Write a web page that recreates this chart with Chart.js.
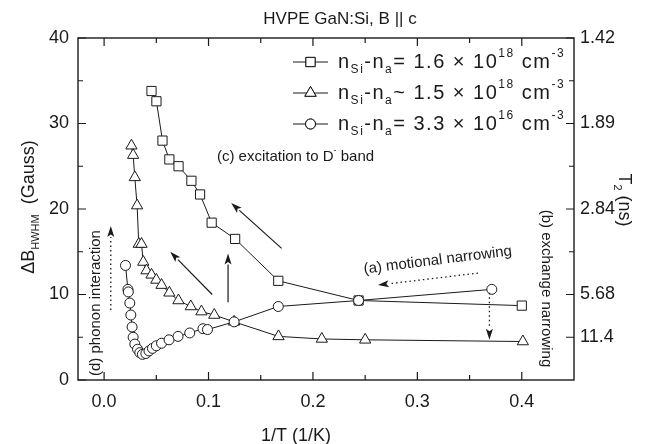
<!DOCTYPE html>
<html>
<head>
<meta charset="utf-8">
<script src="https://cdn.jsdelivr.net/npm/chart.js@4.4.1/dist/chart.umd.min.js"></script>
<style>
  body { margin: 0; background: #fff; }
  canvas { display: block; }
</style>
</head>
<body>
<canvas id="hvpeChart" width="646" height="444"></canvas>
<script>
// --- data (x = 1/T in 1/K, y = dB_HWHM in Gauss) ---
const squareX = [0.0454, 0.0501, 0.0559, 0.0625, 0.0713, 0.0836, 0.0919, 0.1030, 0.1255, 0.1668, 0.2437, 0.4000];
const squareY = [33.8, 32.6, 28.0, 25.8, 25.0, 23.3, 21.7, 18.4, 16.5, 11.6, 9.3, 8.7];

const triangleX = [0.0262, 0.0278, 0.0294, 0.0316, 0.0332, 0.0358, 0.0375, 0.0406, 0.0454, 0.0500, 0.0550, 0.0625, 0.0712, 0.0830, 0.0932, 0.1055, 0.1245, 0.1670, 0.2085, 0.2500, 0.4010];
const triangleY = [27.4, 26.3, 23.7, 20.4, 15.9, 15.9, 13.8, 12.8, 12.3, 11.7, 11.1, 10.2, 9.3, 8.6, 8.0, 7.6, 6.8, 5.1, 4.8, 4.7, 4.5];

const circleX = [0.0205, 0.0228, 0.0232, 0.0246, 0.0256, 0.0268, 0.0278, 0.0294, 0.0320, 0.0342, 0.0367, 0.0400, 0.0430, 0.0463, 0.0500, 0.0550, 0.0622, 0.0708, 0.0820, 0.0947, 0.0990, 0.1245, 0.1668, 0.2437, 0.3713];
const circleY = [13.4, 10.6, 10.3, 9.0, 7.6, 6.2, 5.0, 4.2, 3.6, 3.2, 3.0, 3.1, 3.4, 3.7, 4.0, 4.3, 4.7, 5.1, 5.5, 6.0, 5.9, 6.8, 8.6, 9.3, 10.6];

// tick values / labels
const xTicks = [0.0, 0.1, 0.2, 0.3, 0.4];
const xMinorTicks = [0.05, 0.15, 0.25, 0.35];
const yTicks = [0, 10, 20, 30, 40];
const yMinorTicks = [5, 15, 25, 35];
const t2TickGauss = [5, 10, 20, 30, 40];
const t2TickLabels = ['11.4', '5.68', '2.84', '1.89', '1.42'];
const t2MinorGauss = [15, 25, 35];

const INK = '#1a1a1a';
const FONT = "'Liberation Sans', Arial, sans-serif";

function pts(xs, ys) {
    return xs.map((x, i) => ({ x: x, y: ys[i] }));
}

// draw text with sub/superscript parts: [text, 0|-1|1]  (-1 sub, 1 sup)
function richWidth(ctx, parts, size, ratio) {
    let w = 0;
    parts.forEach(p => {
        ctx.font = (p[1] ? Math.round(size * (ratio || 0.62)) : size) + 'px ' + FONT;
        w += ctx.measureText(p[0]).width;
    });
    return w;
}
function drawRich(ctx, x, y, parts, size, ratio) {
    let cx = x;
    ctx.textBaseline = 'middle';
    ctx.textAlign = 'left';
    parts.forEach(p => {
        const s = p[1] ? Math.round(size * (ratio || 0.62)) : size;
        ctx.font = s + 'px ' + FONT;
        let dy = 0;
        if (p[1] === -1) dy = size * 0.38;
        if (p[1] === 1) dy = -size * 0.4;
        ctx.fillText(p[0], cx, y + dy);
        cx += ctx.measureText(p[0]).width;
    });
}

function arrow(ctx, x1, y1, x2, y2, dotted) {
    const ang = Math.atan2(y2 - y1, x2 - x1);
    const hl = 11, hw = 3.5;
    const bx = x2 - Math.cos(ang) * hl, by = y2 - Math.sin(ang) * hl;
    ctx.save();
    ctx.strokeStyle = INK;
    ctx.fillStyle = INK;
    ctx.lineWidth = dotted ? 1.3 : 1.2;
    ctx.setLineDash(dotted ? [1.5, 3] : []);
    ctx.beginPath();
    ctx.moveTo(x1, y1);
    ctx.lineTo(bx, by);
    ctx.stroke();
    ctx.setLineDash([]);
    ctx.beginPath();
    ctx.moveTo(x2, y2);
    ctx.lineTo(bx - Math.sin(ang) * hw, by + Math.cos(ang) * hw);
    ctx.lineTo(bx + Math.cos(ang) * 2.5, by + Math.sin(ang) * 2.5);
    ctx.lineTo(bx + Math.sin(ang) * hw, by - Math.cos(ang) * hw);
    ctx.closePath();
    ctx.fill();
    ctx.restore();
}

// annotation arrows in data units: [x1, y1, x2, y2, dotted]
const arrows = [
    [0.170, 15.4, 0.1217, 20.7, false],
    [0.1035, 10.0, 0.0633, 15.0, false],
    [0.1187, 9.1, 0.1187, 14.8, false],
    [0.0064, 8.2, 0.0064, 18.0, true],
    [0.358, 12.5, 0.2622, 11.1, true],
    [0.369, 10.2, 0.369, 4.7, true]
];

const legendRows = [
    { style: 'rect', text: [['n', 0], ['Si', -1], ['-n', 0], ['a', -1], ['= 1.6 \u00d7 10', 0], ['18', 1], [' cm', 0], ['-3', 1]] },
    { style: 'triangle', text: [['n', 0], ['Si', -1], ['-n', 0], ['a', -1], ['~ 1.5 \u00d7 10', 0], ['18', 1], [' cm', 0], ['-3', 1]] },
    { style: 'circle', text: [['n', 0], ['Si', -1], ['-n', 0], ['a', -1], ['= 3.3 \u00d7 10', 0], ['16', 1], [' cm', 0], ['-3', 1]] }
];
const markerRadius = { rect: 6.5, triangle: 6.5, circle: 5 };

const decorPlugin = {
    id: 'decor',
    afterDraw(chart) {
        const ctx = chart.ctx;
        const a = chart.chartArea;
        const xs = chart.scales.x, ys = chart.scales.y;
        ctx.save();

        // frame
        ctx.strokeStyle = INK;
        ctx.lineWidth = 1.4;
        ctx.strokeRect(a.left, a.top, a.right - a.left, a.bottom - a.top);

        // inward ticks
        ctx.lineWidth = 1.2;
        ctx.beginPath();
        const xt = (v, len) => {
            const p = xs.getPixelForValue(v);
            ctx.moveTo(p, a.bottom); ctx.lineTo(p, a.bottom - len);
            ctx.moveTo(p, a.top); ctx.lineTo(p, a.top + len);
        };
        xTicks.forEach(v => xt(v, 8));
        xMinorTicks.forEach(v => xt(v, 5));
        yTicks.forEach(v => { const p = ys.getPixelForValue(v); ctx.moveTo(a.left, p); ctx.lineTo(a.left + 8, p); });
        yMinorTicks.forEach(v => { const p = ys.getPixelForValue(v); ctx.moveTo(a.left, p); ctx.lineTo(a.left + 5, p); });
        t2TickGauss.forEach(v => { const p = ys.getPixelForValue(v); ctx.moveTo(a.right, p); ctx.lineTo(a.right - 8, p); });
        t2MinorGauss.forEach(v => { const p = ys.getPixelForValue(v); ctx.moveTo(a.right, p); ctx.lineTo(a.right - 5, p); });
        ctx.stroke();

        ctx.fillStyle = INK;

        // title
        ctx.font = '17px ' + FONT;
        ctx.textAlign = 'center';
        ctx.textBaseline = 'middle';
        ctx.fillText('HVPE GaN:Si, B || c', 340, 19);

        // x title
        ctx.font = '18px ' + FONT;
        ctx.fillText('1/T (1/K)', 296, 436);

        // left title
        const lt = [['\u0394B', 0], ['HWHM', -1], ['  (Gauss)', 0]];
        ctx.save();
        ctx.translate(29, 207);
        ctx.rotate(-Math.PI / 2);
        drawRich(ctx, -richWidth(ctx, lt, 18) / 2, 0, lt, 18);
        ctx.restore();

        // right title
        const rt = [['T', 0], ['2', -1], [' (ns)', 0]];
        ctx.save();
        ctx.translate(624, 200);
        ctx.rotate(Math.PI / 2);
        drawRich(ctx, -richWidth(ctx, rt, 18) / 2, 0, rt, 18);
        ctx.restore();

        // legend
        legendRows.forEach((row, i) => {
            const ly = 62 + i * 31;
            ctx.strokeStyle = INK;
            ctx.lineWidth = 1;
            ctx.beginPath();
            ctx.moveTo(293, ly); ctx.lineTo(328, ly);
            ctx.stroke();
            Chart.helpers.drawPoint(ctx, {
                pointStyle: row.style, radius: markerRadius[row.style], rotation: 0, borderWidth: 1
            }, 310.5, ly);
            ctx.fillStyle = '#fff';
            ctx.fill();
            ctx.stroke();
            ctx.fillStyle = INK;
            ctx.save();
            ctx.letterSpacing = '1.5px';
            drawRich(ctx, 338, ly, row.text, 20, 0.62);
            ctx.restore();
        });

        // arrows
        arrows.forEach(r => arrow(ctx, xs.getPixelForValue(r[0]), ys.getPixelForValue(r[1]),
            xs.getPixelForValue(r[2]), ys.getPixelForValue(r[3]), r[4]));

        // annotation texts
        drawRich(ctx, xs.getPixelForValue(0.108), ys.getPixelForValue(26.1),
            [['(c) excitation to D', 0], ['-', 1], [' band', 0]], 15);

        const dText = [['(d) phonon interaction', 0]];
        ctx.save();
        ctx.translate(xs.getPixelForValue(-0.0075), ys.getPixelForValue(9.0));
        ctx.rotate(-Math.PI / 2);
        drawRich(ctx, -richWidth(ctx, dText, 15) / 2, 0, dText, 15);
        ctx.restore();

        const aText = [['(a) motional narrowing', 0]];
        ctx.save();
        ctx.translate(xs.getPixelForValue(0.3195), ys.getPixelForValue(14.0));
        ctx.rotate(-7 * Math.PI / 180);
        drawRich(ctx, -richWidth(ctx, aText, 15) / 2, 0, aText, 15);
        ctx.restore();

        const bText = [['(b) exchange narrowing', 0]];
        ctx.save();
        ctx.translate(xs.getPixelForValue(0.4237), ys.getPixelForValue(10.7));
        ctx.rotate(Math.PI / 2);
        drawRich(ctx, -richWidth(ctx, bText, 15) / 2, 0, bText, 15);
        ctx.restore();

        ctx.restore();
    }
};

function series(data, style, r) {
    return {
        data: data,
        showLine: true,
        borderColor: INK,
        borderWidth: 1,
        pointStyle: style,
        pointRadius: r,
        pointBorderWidth: 1,
        pointBorderColor: INK,
        pointBackgroundColor: '#fff'
    };
}

new Chart(document.getElementById('hvpeChart'), {
    type: 'scatter',
    data: {
        datasets: [
            series(pts(circleX, circleY), 'circle', markerRadius.circle),
            series(pts(triangleX, triangleY), 'triangle', markerRadius.triangle),
            series(pts(squareX, squareY), 'rect', markerRadius.rect)
        ]
    },
    options: {
        responsive: false,
        animation: false,
        layout: { padding: { top: 38, left: 0, right: 0, bottom: 0 } },
        plugins: { legend: { display: false }, tooltip: { enabled: false } },
        scales: {
            x: {
                type: 'linear',
                min: -0.025,
                max: 0.45,
                afterBuildTicks: s => { s.ticks = xTicks.map(v => ({ value: v })); },
                afterFit: s => { s.height = 64; },
                grid: { display: false, drawTicks: false },
                border: { display: false },
                ticks: {
                    padding: 11,
                    color: INK,
                    font: { family: FONT, size: 18 },
                    callback: v => v.toFixed(1)
                }
            },
            y: {
                type: 'linear',
                position: 'left',
                min: 0,
                max: 40,
                afterBuildTicks: s => { s.ticks = yTicks.map(v => ({ value: v })); },
                afterFit: s => { s.width = 78; },
                grid: { display: false, drawTicks: false },
                border: { display: false },
                ticks: { padding: 9, color: INK, font: { family: FONT, size: 18 } }
            },
            y2: {
                type: 'linear',
                position: 'right',
                min: 0,
                max: 40,
                afterBuildTicks: s => { s.ticks = t2TickGauss.map(v => ({ value: v })); },
                afterFit: s => { s.width = 72; },
                grid: { display: false, drawTicks: false },
                border: { display: false },
                ticks: {
                    padding: 6,
                    color: INK,
                    font: { family: FONT, size: 18 },
                    callback: v => t2TickLabels[t2TickGauss.indexOf(v)]
                }
            }
        }
    },
    plugins: [decorPlugin]
});
</script>
</body>
</html>
